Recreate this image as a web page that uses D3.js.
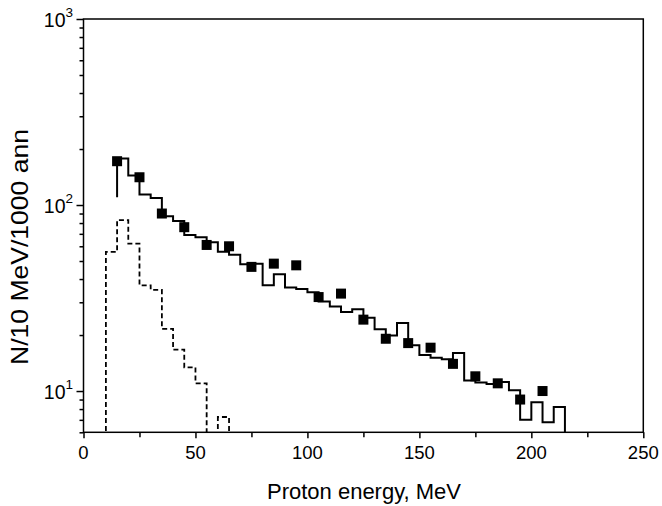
<!DOCTYPE html>
<html>
<head>
<meta charset="utf-8">
<script src="https://cdn.jsdelivr.net/npm/d3@7"></script>
<style>
  body { margin: 0; background: #fff; }
  text { font-family: "Liberation Sans", Arial, sans-serif; fill: #000; }
</style>
</head>
<body>
<svg id="chart" width="662" height="506"></svg>
<script>
// simulated spectrum, 5 MeV bins starting at 15 MeV
const simStart = 15;
const binWidth = 5;
const simLead = 110;   // value where the first vertical edge starts
const simValues = [178, 144, 114, 109, 87, 82, 69, 67, 63, 56, 54, 48, 48.4,
  37, 42.4, 36, 35.4, 34, 30.3, 28.5, 26.6, 27.5, 24.8, 21.5, 19.9, 23.2,
  17.6, 15.6, 15.1, 14.8, 16, 11.4, 11.1, 10.9, 11.2, 10.1, 7.0, 8.7, 6.8, 8.2, 5];

// second (dashed) spectrum, starting at 10 MeV
const dashStart = 10;
const dashValues = [56, 83, 62, 37, 35, 21.6, 16.7, 13.4, 11.0, 5, 7.25];

// measured points
const expEnergy = [15, 25, 35, 45, 55, 65, 75, 85, 95, 105, 115, 125, 135, 145, 155, 165, 175, 185, 195, 205];
const expValues = [172, 141, 90, 76, 61, 60, 46.5, 48.4, 47.4, 32, 33.4, 24.2, 19.1, 18.1, 17.1, 14.0, 12, 11, 9.0, 10.0];

const xTicks = [0, 50, 100, 150, 200, 250];
const xMinor = [25, 75, 125, 175, 225];
const yTicks = [10, 100, 1000];

const svg = d3.select("#chart");
const W = 662, H = 506;
const margin = {left: 83.5, right: 18.7, top: 19, bottom: 73.7};
const x = d3.scaleLinear().domain([0, 250]).range([margin.left, W - margin.right]);
const y = d3.scaleLog().domain([6, 1000]).range([H - margin.bottom, margin.top]);

svg.append("rect").attr("width", W).attr("height", H).attr("fill", "#fff");

svg.append("clipPath").attr("id", "plotclip")
  .append("rect")
  .attr("x", x(0)).attr("y", y(1000))
  .attr("width", x(250) - x(0)).attr("height", y(6) - y(1000));

// build step points for a histogram
function stepPoints(start, lead, values, tail) {
  let pts = [{e: start, v: lead}];
  values.forEach((v, i) => pts.push({e: start + i * binWidth, v: v}));
  let end = start + values.length * binWidth;
  pts.push({e: end, v: values[values.length - 1]});
  if (tail != null) pts.push({e: end, v: tail});
  return pts;
}

const line = d3.line()
  .x(d => x(d.e))
  .y(d => y(d.v))
  .curve(d3.curveStepAfter);

const plot = svg.append("g").attr("clip-path", "url(#plotclip)");

plot.append("path")
  .attr("d", line(stepPoints(dashStart, 5, dashValues, 5)))
  .attr("fill", "none")
  .attr("stroke", "#000")
  .attr("stroke-width", 1.8)
  .attr("stroke-dasharray", "5,3");

plot.append("path")
  .attr("d", line(stepPoints(simStart, simLead, simValues, null)))
  .attr("fill", "none")
  .attr("stroke", "#000")
  .attr("stroke-width", 2);

// experimental squares
const sq = 10;
svg.append("g").selectAll("rect")
  .data(expEnergy)
  .enter()
  .append("rect")
  .attr("x", (d) => x(d) - sq / 2)
  .attr("y", (d, i) => y(expValues[i]) - sq / 2)
  .attr("width", sq)
  .attr("height", sq)
  .attr("fill", "#000");

// axes
const xAxis = svg.append("g").attr("transform", `translate(0,${y(6)})`);
xAxis.call(d3.axisBottom(x).tickValues(xTicks).tickSize(6).tickFormat(""));
xAxis.append("g").call(d3.axisBottom(x).tickValues(xMinor).tickSize(5).tickFormat(""));
xAxis.selectAll(".domain").remove();
xAxis.selectAll("line").attr("stroke-width", 1.5);

let yMinor = [];
[1, 10, 100].forEach(dec => { for (let k = 2; k <= 9; k++) { if (dec * k >= 6) yMinor.push(dec * k); } });

const yAxis = svg.append("g").attr("transform", `translate(${x(0)},0)`);
yAxis.call(d3.axisLeft(y).tickValues(yTicks).tickSize(7).tickFormat(""));
yAxis.append("g").call(d3.axisLeft(y).tickValues(yMinor).tickSize(4).tickFormat(""));
yAxis.selectAll(".domain").remove();
yAxis.selectAll("line").attr("stroke-width", 1.5);

// frame
svg.append("rect")
  .attr("x", x(0)).attr("y", y(1000))
  .attr("width", x(250) - x(0)).attr("height", y(6) - y(1000))
  .attr("fill", "none").attr("stroke", "#000").attr("stroke-width", 1.5);

// tick labels
svg.append("g").selectAll("text")
  .data(xTicks)
  .enter()
  .append("text")
  .attr("x", d => x(d))
  .attr("y", 459)
  .attr("text-anchor", "middle")
  .style("font-size", "18.5px")
  .text(d => d);

const yl = svg.append("g").selectAll("text")
  .data(yTicks)
  .enter()
  .append("text")
  .attr("x", 73)
  .attr("y", d => y(d) + 8)
  .attr("text-anchor", "end")
  .style("font-size", "19.5px");
yl.append("tspan").text("10");
yl.append("tspan")
  .attr("dy", -10)
  .style("font-size", "13.5px")
  .text(d => Math.round(Math.log10(d)));

// axis titles
svg.append("text")
  .attr("x", 364)
  .attr("y", 499)
  .attr("text-anchor", "middle")
  .style("font-size", "22px")
  .text("Proton energy, MeV");

svg.append("text")
  .attr("transform", "translate(28,247) rotate(-90)")
  .attr("text-anchor", "middle")
  .style("font-size", "24px")
  .attr("textLength", 236)
  .attr("lengthAdjust", "spacingAndGlyphs")
  .text("N/10 MeV/1000 ann");
</script>
</body>
</html>
